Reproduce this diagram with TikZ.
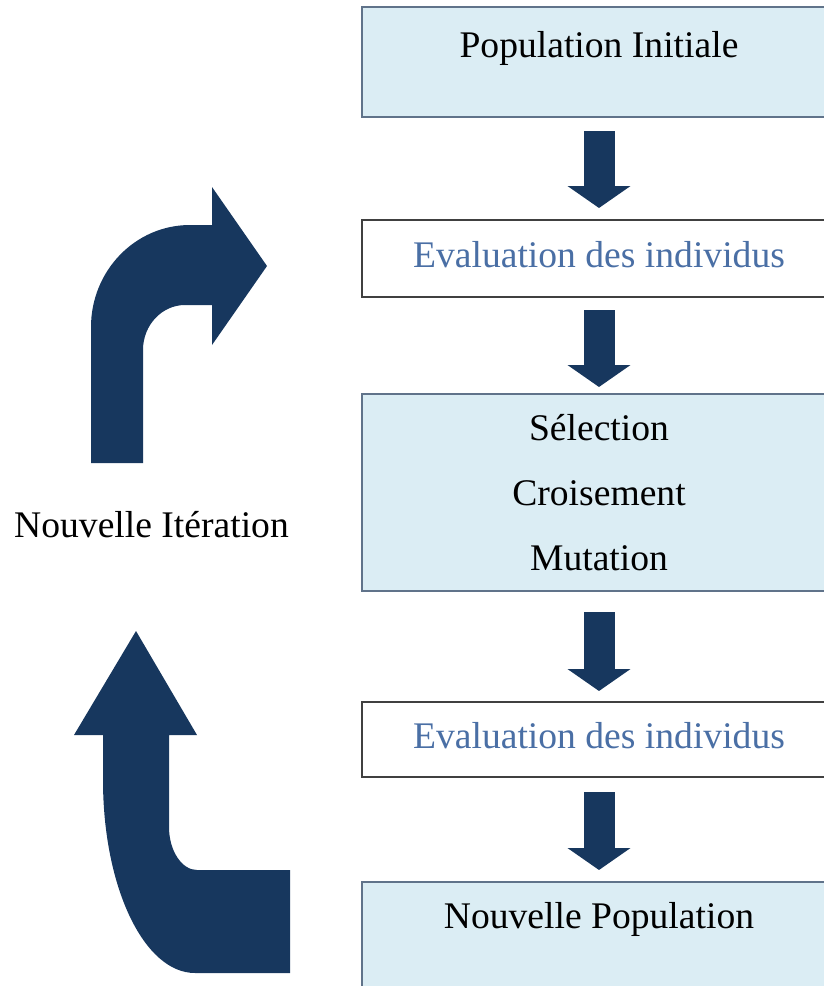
\documentclass[tikz,border=0pt]{standalone}
\usepackage{fontspec}
\setmainfont{Liberation Serif}
\usetikzlibrary{arrows.meta}
\definecolor{navy}{RGB}{23,55,94}
\definecolor{boxfill}{RGB}{219,237,244}
\definecolor{boxline}{RGB}{96,115,138}
\definecolor{evaltext}{RGB}{74,111,165}
\definecolor{evalline}{RGB}{64,64,64}

\begin{document}
\begin{tikzpicture}[x=0.5pt, y=-0.5pt,
		popbox/.style={draw=boxline, fill=boxfill, line width=1pt, inner sep=0pt,
			minimum width=237pt, font=\fontsize{18.8}{32.5}\selectfont, align=center},
		evalbox/.style={draw=evalline, fill=white, line width=1pt, inner sep=0pt,
			minimum width=237pt, text=evaltext, font=\fontsize{18.8}{22}\selectfont,
			text height=23.5pt, text depth=15pt},
		flow/.style={draw=navy, line width=15.5pt, -{Triangle[width=31pt, length=11pt]}, navy, xshift=-5.5pt}]
		%%%%% START %%%%%
		\useasboundingbox (0, 0) rectangle (824, 986);
		\clip (0, 0) rectangle (824, 986);
		
		\node[popbox, text height=25pt, text depth=30pt] (init) at (599, 62) {Population Initiale};
		\node[evalbox] (eval1) at (599, 258.5) {Evaluation des individus};
		\node[popbox, minimum height=98.5pt] (ops) at (599, 492.5) {Sélection\\ Croisement\\ Mutation};
		\node[evalbox, text height=23pt, text depth=14.5pt] (eval2) at (599, 739.5) {Evaluation des individus};
		\node[popbox, text height=23pt, text depth=32pt] (newpop) at (599, 937) {Nouvelle Population};
		
		\draw[flow, shorten <=6.5pt, shorten >=5.5pt] (init.south) -- (eval1.north);
		\draw[flow, shorten <=6pt, shorten >=3pt] (eval1.south) -- (ops.north);
		\draw[flow, shorten <=10pt, shorten >=5pt] (ops.south) -- (eval2.north);
		\draw[flow, shorten <=7pt, shorten >=5.5pt] (eval2.south) -- (newpop.north);
		
		% bent arrow, top left
		\fill[navy] (91, 463) -- (91, 327) .. controls (91, 271) and (135, 225) .. (190, 225)
			-- (212, 225) -- (212, 187) -- (267, 266) -- (212, 345) -- (212, 305) -- (185, 305)
			.. controls (162, 305) and (143, 325) .. (143, 350) -- (143, 463) -- cycle;
		
		\node[anchor=base, font=\fontsize{18.8}{22}\selectfont] (iter) at (151.5, 537) {Nouvelle Itération};
		
		% bent arrow, bottom left
		\fill[navy] (136, 631) -- (197, 735) -- (169, 735) -- (169, 827)
			.. controls (169, 851) and (182, 870) .. (197, 870) -- (290, 870)
			-- (290, 973) -- (195, 973) .. controls (144, 973) and (103, 887) .. (103, 780)
			-- (103, 735) -- (74, 735) -- cycle;
		%%%%% END %%%%%
	\end{tikzpicture}
\end{document}
